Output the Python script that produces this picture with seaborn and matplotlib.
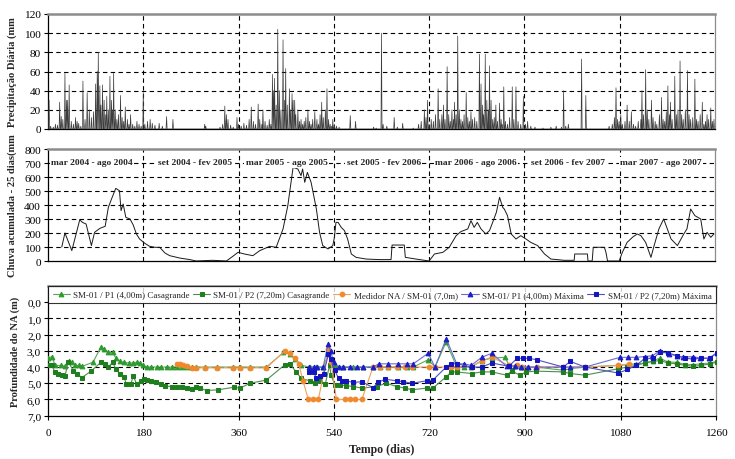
import numpy as np
import pandas as pd
import matplotlib
matplotlib.use("Agg")
import matplotlib.pyplot as plt
import seaborn as sns

sns.set_theme(style="white")
plt.rcParams['font.family'] = ['Liberation Serif', 'DejaVu Serif']

# ---------------- data ----------------
# daily precipitation (mm): days with rain and amount
rain_days = [2, 5, 10, 14, 18, 22, 25, 28, 32, 35, 37, 40, 44, 48, 52, 55, 58, 62, 66, 70, 74, 78, 82, 86, 90, 93, 95, 98,
             100, 103, 106, 109, 111, 114, 117, 120, 122, 124, 127, 130, 133, 137, 140, 143, 146, 150, 153, 156, 160, 164,
             168, 172, 176, 180, 183, 188, 193, 197, 202, 210, 216, 224, 236,
             296, 298, 325, 330, 334, 337, 340, 345, 350, 357, 360, 365, 370, 375, 380, 384, 388, 392, 397, 400, 404, 406,
             410, 414, 418, 421, 424, 426, 428, 431, 434, 437, 440, 444, 447, 449, 452, 456, 458, 461, 463, 466, 468, 472,
             475, 478, 481, 484, 487, 491, 494, 497, 500, 504, 508, 511, 514, 517, 520, 524, 527, 530, 533, 536, 538, 541,
             545, 550, 571, 581,
             615, 620, 630, 633, 640, 654, 660, 670, 690, 700, 705, 711, 714, 717, 720, 724, 728, 732, 737, 740, 744, 747,
             750, 754, 757, 760, 763, 766, 768, 771, 774, 777, 780, 783, 786, 790, 793, 796, 799, 802, 806, 810, 815, 818,
             821, 823, 826, 829, 832, 834, 837, 840, 843, 846, 849, 853, 856, 858, 861, 864, 868, 872, 877, 880, 884, 888,
             893, 898, 902, 906, 912, 920, 935, 950, 960, 970, 974, 978, 983, 1008, 1016,
             1060, 1066, 1070, 1073, 1076, 1079, 1082, 1085, 1090, 1094, 1098, 1102, 1106, 1110, 1115, 1120, 1122, 1125,
             1129, 1132, 1135, 1140, 1143, 1147, 1150, 1155, 1159, 1162, 1165, 1168, 1171, 1174, 1176, 1179, 1184, 1187,
             1190, 1194, 1197, 1200, 1204, 1208, 1211, 1214, 1218, 1222, 1225, 1228, 1232, 1236, 1239, 1242, 1245, 1248,
             1252, 1255, 1258]
rain_mm = [30, 3, 2, 5, 4, 28, 13, 10, 58, 30, 30, 46, 8, 5, 12, 8, 6, 3, 50, 10, 38, 20, 12, 18, 47, 60, 80, 45,
           25, 46, 30, 15, 34, 20, 55, 30, 20, 58, 20, 10, 15, 35, 12, 8, 23, 10, 5, 15, 5, 3,
           8, 5, 3, 38, 5, 8, 10, 6, 4, 6, 3, 13, 10,
           5, 3, 2, 5, 24, 15, 10, 4, 2, 12, 5, 3, 6, 4, 10, 23, 8, 5, 26, 10, 5, 20,
           8, 4, 10, 5, 57, 40, 53, 25, 104, 40, 20, 93, 30, 63, 25, 42, 20, 37, 30, 30, 15, 20,
           8, 10, 5, 8, 12, 20, 8, 5, 10, 18, 10, 5, 15, 28, 12, 20, 42, 10, 5, 3, 10, 5,
           3, 2, 14, 8,
           2, 1, 100, 5, 3, 12, 2, 6, 1, 5, 8, 20, 12, 30, 5, 10, 8, 15, 42, 10, 15, 25,
           10, 65, 15, 8, 20, 10, 28, 15, 97, 20, 10, 8, 15, 38, 12, 8, 18, 10, 12, 8, 78, 47,
           25, 15, 78, 30, 20, 66, 30, 10, 12, 25, 8, 27, 10, 5, 44, 8, 5, 12, 44, 10, 44, 8,
           5, 34, 5, 8, 3, 2, 1, 2, 3, 2, 40, 3, 5, 73, 35,
           3, 5, 12, 43, 10, 8, 15, 5, 8, 25, 8, 18, 5, 3, 8, 10, 40, 15,
           62, 20, 10, 30, 12, 8, 5, 15, 33, 10, 8, 18, 45, 15, 28, 10, 55, 15,
           20, 71, 15, 10, 20, 61, 15, 10, 12, 52, 10, 8, 15, 28, 5, 8, 15, 10,
           22, 8, 10]

# 25-day accumulated rainfall (mm)
acc_days = [26, 26, 32, 45, 60, 65, 72, 82, 88, 98, 108, 114, 120, 128, 135, 138, 142, 147, 155, 161, 167, 173,
            183, 192, 202, 211, 221, 230, 249, 268, 280, 311, 337, 349, 359, 371, 387, 400, 419, 431, 444, 453,
            460, 463, 472, 478, 481, 485, 490, 497, 507, 513, 519, 529, 538, 541, 544, 548, 554, 560, 566, 573,
            582, 601, 626, 648, 650, 673, 675, 695, 720, 730, 746, 758, 771, 780, 793, 799, 805, 811, 818, 827,
            834, 840, 847, 853, 859, 862, 868, 875, 884, 893, 903, 912, 925, 938, 950, 975, 994, 995, 1019, 1020,
            1028, 1030, 1051, 1054, 1057, 1079, 1085, 1094, 1104, 1113, 1120, 1129, 1139, 1145, 1154, 1163,
            1170, 1177, 1189, 1201, 1207, 1214, 1222, 1233, 1239, 1245, 1252, 1258]
acc_mm = [0, 200, 200, 74, 295, 276, 264, 110, 205, 233, 248, 383, 443, 519, 502, 360, 407, 312, 300, 257, 193, 157,
          126, 105, 98, 98, 57, 38, 21, 10, 0, 5, 0, 33, 62, 50, 38, 74, 105, 98, 229, 395,
          586, 669, 657, 610, 657, 562, 633, 562, 371, 205, 110, 86, 110, 169, 276, 276, 240, 217, 157, 50,
          26, 14, 10, 10, 114, 114, 26, 14, 0, 50, 62, 98, 181, 210, 229, 288, 240, 276, 229, 193,
          217, 276, 348, 455, 383, 371, 324, 193, 157, 181, 157, 133, 110, 50, 14, 5, 5, 50, 50, 0,
          0, 98, 98, 62, 0, 0, 62, 133, 169, 193, 181, 133, 26, 110, 229, 300,
          229, 157, 110, 193, 229, 371, 324, 300, 157, 205, 169, 193]

period_labels = ["mar 2004 - ago 2004", "set 2004 - fev 2005", "mar 2005 - ago 2005", "set 2005 - fev 2006",
                 "mar 2006 - ago 2006", "set 2006 - fev 2007", "mar 2007 - ago 2007"]
period_centers = [83, 277, 451, 634, 809, 983, 1158]

# groundwater depth (m)
p1c_days = [0, 8, 13, 24, 33, 40, 45, 51, 59, 65, 85, 100, 106, 114, 122, 128, 136, 143, 152, 160, 167, 174,
            180, 187, 195, 205, 214, 224, 233, 243, 252, 262, 271, 280, 296, 318, 349, 362, 381, 412,
            444, 456, 466, 478, 494, 506, 519, 529, 534, 541, 557, 576, 594, 613, 626, 642, 661, 677, 689,
            717, 730, 751, 771, 785, 798, 818, 837, 862, 875, 895, 906, 921, 972, 985, 1013, 1076, 1094,
            1110, 1126, 1142, 1154, 1170, 1186, 1202, 1217, 1232, 1249, 1261]
p1c_depth = [3.45, 3.35, 3.9, 3.9, 3.95, 3.6, 3.7, 3.9, 3.9, 3.95, 3.7, 2.75, 2.9, 3.1, 3.1, 3.45, 3.65, 3.7, 3.75,
             3.75, 3.7, 3.75, 3.9, 4.0, 4.0, 4.0, 4.0, 4.0, 4.0, 4.0, 4.0, 4.0, 4.0, 4.0, 4.0, 4.0, 4.0, 4.0, 4.0,
             4.0,
             3.1, 3.2, 3.5, 3.9, 4.0, 4.0, 4.0, 3.2, 3.7, 3.9, 4.0, 4.0, 4.0, 4.0, 4.0, 4.0, 4.0, 4.0, 4.0,
             3.55, 4.0, 2.45, 4.0, 4.0, 4.0, 3.6, 3.45, 3.4, 4.2, 4.0, 4.0, 4.0, 4.2, 4.1, 4.0, 3.9, 3.85,
             3.8, 3.75, 3.6, 3.45, 3.7, 3.7, 3.85, 3.85, 3.8, 3.75, 3.65]

p2c_days = [0, 7, 13, 19, 26, 32, 38, 48, 54, 64, 82, 100, 107, 114, 122, 128, 136, 143, 148, 156, 161, 167, 175,
            181, 187, 195, 204, 213, 221, 233, 243, 252, 262, 271, 280, 287, 299, 321, 350, 362, 381, 412,
            447, 456, 468, 478, 494, 504, 513, 523, 531, 534, 541, 551, 563, 576, 592, 620, 638, 658, 673, 687,
            714, 726, 751, 761, 771, 799, 818, 837, 865, 875, 890, 902, 921, 972, 985, 1013, 1076, 1093, 1109,
            1126, 1142, 1154, 1170, 1186, 1202, 1217, 1232, 1249, 1261]
p2c_depth = [3.88, 3.88, 4.3, 4.4, 4.5, 4.58, 3.67, 4.23, 4.4, 4.65, 4.23, 3.7, 3.8, 4.0, 3.7, 4.13, 4.44, 4.6, 5.06,
             5.06, 4.54, 5.06, 4.85, 4.75, 4.8, 4.85, 4.95, 5.06, 5.17, 5.2, 5.25, 5.25, 5.3, 5.35, 5.25, 5.3, 5.45,
             5.4, 5.25, 5.3, 5.0, 4.8,
             3.85, 3.8, 4.3, 4.7, 4.85, 5.0, 4.85, 5.05, 3.9, 4.5, 5.1, 5.1, 5.15, 5.2, 5.3, 5.2, 5.0, 5.2, 5.3, 5.4,
             5.3, 5.3, 4.6, 4.3, 4.3, 4.4, 4.3, 4.3, 4.5, 4.25, 4.5, 4.3, 4.25, 4.3, 4.4, 4.5, 4.1, 4.0, 3.9,
             3.75, 3.65, 3.6, 3.75, 3.8, 3.9, 3.95, 3.9, 3.8, 3.7]

na_days = [243, 249, 255, 262, 271, 280, 296, 318, 349, 362, 381, 412, 447, 456, 466, 473, 481, 491, 500, 510,
           529, 534, 544, 560, 569, 579, 592, 613, 626, 642, 658, 673, 687, 719, 730, 761, 771, 799, 818, 837,
           869, 885, 895, 922, 972, 1013, 1076, 1095]
na_depth = [3.8, 3.8, 3.9, 3.95, 4.05, 4.05, 4.05, 4.05, 4.05, 4.05, 4.05, 4.05, 3.0, 3.15, 3.45, 3.8, 4.85, 6.0,
            6.0, 6.0, 2.9, 3.7, 6.0, 6.0, 6.0, 6.0, 6.0, 4.0, 4.0, 4.0, 4.0, 4.0, 4.0, 4.0, 4.0, 4.0, 4.0, 4.0,
            3.6, 3.4, 3.9, 3.9, 4.0, 4.0, 4.0, 4.0, 3.9, 3.8]

p1m_days = [493, 501, 508, 519, 528, 533, 539, 548, 557, 569, 582, 594, 613, 624, 642, 661, 677, 689, 717, 730,
            751, 771, 785, 798, 818, 837, 865, 880, 893, 906, 921, 972, 985, 1013, 1079, 1094, 1110, 1126, 1140,
            1154, 1171, 1186, 1198, 1217, 1230, 1246, 1261]
p1m_depth = [4.0, 4.0, 4.0, 4.0, 2.6, 3.0, 3.7, 4.0, 4.0, 4.0, 4.0, 4.0, 4.0, 3.8, 3.8, 3.8, 3.8, 3.8, 3.15, 4.0,
             2.25, 3.8, 3.8, 3.9, 3.4, 3.15, 3.95, 3.95, 4.0, 4.0, 4.0, 4.0, 4.0, 4.0, 3.4, 3.4, 3.4, 3.35, 3.3,
             3.0, 3.2, 3.3, 3.4, 3.35, 3.45, 3.45, 3.15]

p2m_days = [493, 501, 506, 513, 520, 529, 533, 541, 548, 554, 563, 576, 592, 613, 622, 636, 658, 670, 686, 714,
            726, 751, 761, 772, 799, 818, 837, 869, 885, 896, 907, 922, 972, 985, 1013, 1076, 1093, 1109, 1126,
            1142, 1154, 1170, 1186, 1202, 1217, 1232, 1249, 1261]
p2m_depth = [4.33, 4.33, 4.65, 4.55, 4.4, 3.2, 3.5, 4.2, 4.7, 4.85, 4.85, 4.95, 4.9, 5.27, 4.95, 4.75, 4.85, 4.9,
             5.0, 4.85, 4.8, 4.0, 3.8, 3.8, 4.0, 4.0, 3.75, 3.95, 3.46, 3.46, 3.46, 3.55, 4.0, 3.65, 4.0, 4.37,
             4.15, 3.9, 3.46, 3.46, 3.08, 3.12, 3.3, 3.46, 3.5, 3.46, 3.46, 3.12]

series_names = ["SM-01 / P1 (4,00m) Casagrande", "SM-01 / P2 (7,20m) Casagrande", "Medidor NA / SM-01 (7,0m)",
                "SM-01/ P1 (4,00m) Máxima", "SM-01 / P2 (7,20m) Máxima"]

x_ticks = [0, 180, 360, 540, 720, 900, 1080, 1260]

# ---------------- figure ----------------
W, H = 735, 460
fig = plt.figure(figsize=(W / 100, H / 100), dpi=100)


def rect(x0, y0, x1, y1):
    return [x0 / W, 1 - y1 / H, (x1 - x0) / W, (y1 - y0) / H]


ax1 = fig.add_axes(rect(48, 15, 715, 130))
ax2 = fig.add_axes(rect(48, 150, 715, 262))
ax3 = fig.add_axes(rect(48, 287, 716, 416.7))

grid_kw = dict(color='black', lw=0.8, ls=(0, (4, 3)), zorder=1)
tick_fs = 8.2
lab_fs = 7.6


def style(ax):
    for s in ['left', 'bottom']:
        ax.spines[s].set_color('black')
        ax.spines[s].set_linewidth(0.9)
    for s in ['top', 'right']:
        ax.spines[s].set_color('#8c8c8c')
    ax.spines['top'].set_linewidth(1.8)
    ax.spines['right'].set_linewidth(0.9)
    ax.tick_params(axis='both', direction='out', length=3, width=0.8, labelsize=tick_fs, pad=2,
                   left=True, bottom=True, colors='black')
    ax.set_xlim(0, 1260)
    ax.set_xticks(x_ticks)
    for xv in x_ticks[1:-1]:
        ax.axvline(xv, **grid_kw)


# top: daily rain
rain_full = np.zeros(1261)
for d, v in zip(rain_days, rain_mm):
    rain_full[d] = v
df_rain = pd.DataFrame({'dia': np.arange(1261), 'mm': rain_full})
sns.lineplot(data=df_rain, x='dia', y='mm', ax=ax1, color='#3c3c3c', lw=0.5, zorder=3, errorbar=None)
style(ax1)
ax1.set_ylim(0, 120)
ax1.set_yticks(range(0, 121, 20))
for yv in range(20, 101, 20):
    ax1.axhline(yv, **grid_kw)
ax1.set_xticklabels([])
ax1.tick_params(axis='x', length=0)
ax1.set_xlabel('')
ax1.set_ylabel('Precipitação Diária (mm', fontsize=lab_fs, fontweight='bold', labelpad=5)

# middle: accumulated rain
df_acc = pd.DataFrame({'dia': acc_days, 'mm': acc_mm})
sns.lineplot(data=df_acc, x='dia', y='mm', ax=ax2, color='#1a1a1a', lw=0.7, sort=False, zorder=3, errorbar=None)
style(ax2)
ax2.set_ylim(0, 800)
ax2.set_yticks(range(0, 801, 100))
for yv in range(100, 701, 100):
    ax2.axhline(yv, **grid_kw)
ax2.set_xticklabels([])
ax2.tick_params(axis='x', length=0)
ax2.set_xlabel('')
ax2.set_ylabel('Chuva acumulada - 25 dias(mm', fontsize=lab_fs, fontweight='bold', labelpad=5)
for lab, c in zip(period_labels, period_centers):
    ax2.text(c, 705, lab, ha='center', va='center', fontsize=6.8, fontweight='bold', zorder=5,
             bbox=dict(facecolor='white', edgecolor='none', pad=1.0))

# bottom: groundwater depth
series = [
    (p1c_days, p1c_depth, '#2e9a2e', '#5aa85a', '^'),
    (p2c_days, p2c_depth, '#1f7f1f', '#4d8f4d', 's'),
    (na_days, na_depth, '#f0892e', '#f0a060', 'o'),
    (p1m_days, p1m_depth, '#1c1cc8', '#6c6cd0', '^'),
    (p2m_days, p2m_depth, '#1414c0', '#5050c8', 's'),
]
for (dd, vv, mc, lc, mk), name in zip(series, series_names):
    df = pd.DataFrame({'dia': dd, 'prof': vv})
    sns.lineplot(data=df, x='dia', y='prof', ax=ax3, color=lc, lw=0.8, marker=mk, markersize=3.4,
                 markerfacecolor=mc, markeredgecolor=mc, sort=False, label=name, zorder=3, errorbar=None)
style(ax3)
ax3.set_ylim(7, -1)
ax3.set_yticks(range(0, 8))
ax3.set_yticklabels([f"{v},0" for v in range(0, 8)])
for yv in range(1, 7):
    ax3.axhline(yv, **grid_kw)
ax3.set_xticklabels([str(v) for v in x_ticks])
ax3.tick_params(axis='x', pad=6)
ax3.set_xlabel('Tempo (dias)', fontsize=8.5, fontweight='bold', labelpad=4)
ax3.set_ylabel('Profundidade do NA (m)', fontsize=lab_fs, fontweight='bold', labelpad=5)
leg = ax3.legend(loc='upper left', bbox_to_anchor=(0, 1, 1, 0), mode='expand', ncol=5, fontsize=6.5,
                 frameon=True, fancybox=False, borderaxespad=0, handlelength=1.9, handletextpad=0.35,
                 columnspacing=0.4, borderpad=0.5)
leg.get_frame().set_edgecolor('black')
leg.get_frame().set_linewidth(0.8)
leg.set_zorder(6)

fig.savefig('out.png', dpi=100)
